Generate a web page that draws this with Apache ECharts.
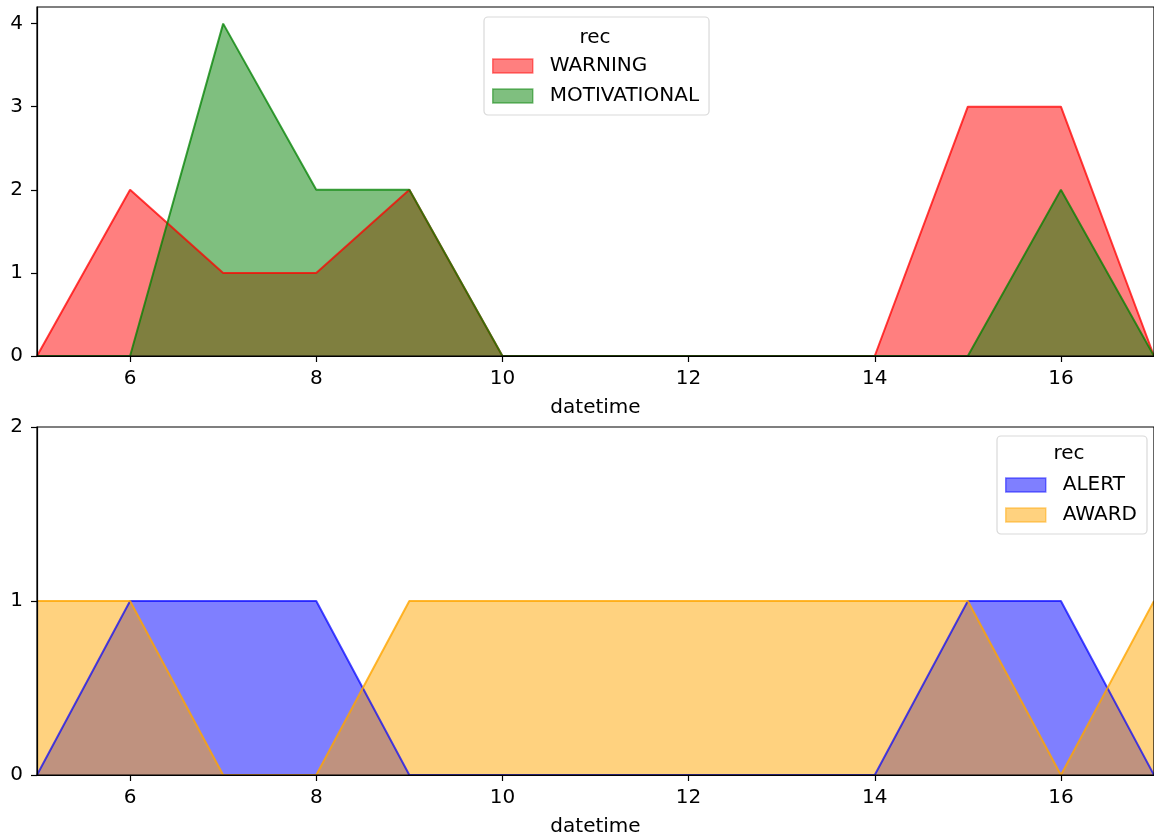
<!DOCTYPE html>
<html>
<head>
<meta charset="utf-8">
<script src="https://cdn.jsdelivr.net/npm/echarts@6/dist/echarts.min.js"></script>
<style>
html,body{margin:0;padding:0;background:#fff;}
#c{width:1154px;height:839px;}
</style>
</head>
<body>
<div id="c"></div>
<script>
var hours = [5,6,7,8,9,10,11,12,13,14,15,16,17];
var warning      = [0,2,1,1,2,0,0,0,0,0,3,3,0];
var motivational = [0,0,4,2,2,0,0,0,0,0,0,2,0];
var alert_       = [0,1,1,1,0,0,0,0,0,0,1,1,0];
var award        = [1,1,0,0,1,1,1,1,1,1,1,0,1];
var xTicks = [6,8,10,12,14,16];
var yTicksTop = [0,1,2,3,4];
var yTicksBottom = [0,1,2];

function pairs(v){ return hours.map(function(h,i){ return [h, v[i]]; }); }

var FONT = 'DejaVu Sans';
var FS = 20;

function xAxis(idx){
  return {
    type:'value', gridIndex: idx, min:5, max:17, z:10,
    name:'datetime', nameLocation:'middle', nameGap:42,
    nameTextStyle:{fontFamily:FONT,fontSize:FS,color:'#000'},
    axisLine:{show:true,lineStyle:{color:'#000',width:1.2}},
    axisTick:{show:true,length:6,inside:false,customValues:xTicks,lineStyle:{color:'#000',width:1.2}},
    axisLabel:{customValues:xTicks,margin:13,fontFamily:FONT,fontSize:FS,color:'#000'},
    splitLine:{show:false}
  };
}
function yAxis(idx, max, ticks){
  return {
    type:'value', gridIndex: idx, min:0, max:max, z:10,
    axisLine:{show:true,lineStyle:{color:'#000',width:1.2}},
    axisTick:{show:true,length:6,inside:false,customValues:ticks,lineStyle:{color:'#000',width:1.2}},
    axisLabel:{customValues:ticks,margin:14,fontFamily:FONT,fontSize:FS,color:'#000'},
    splitLine:{show:false}
  };
}
function area(name, data, xi, line, fill){
  return {
    name:name, type:'line', xAxisIndex:xi, yAxisIndex:xi,
    data:pairs(data), symbol:'none', showSymbol:false, animation:false,
    lineStyle:{color:line,width:2}, itemStyle:{color:fill},
    areaStyle:{color:fill,opacity:1}
  };
}

var red='rgba(255,0,0,0.5)', green='rgba(0,128,0,0.5)', blue='rgba(0,0,255,0.5)', orange='rgba(255,165,0,0.5)';

function legend(left, top, items){
  return {left:left, top:top, orient:'vertical', icon:'rect', itemWidth:40, itemHeight:14, itemGap:10,
     padding:[39,10,9,8], backgroundColor:'#fff', borderColor:'#d9d9d9', borderWidth:1.2, borderRadius:4,
     textStyle:{fontFamily:FONT,fontSize:FS,color:'#000',lineHeight:20,padding:[0,0,0,12]},
     data:items};
}

var option = {
  backgroundColor:'#fff',
  animation:false,
  grid:[
    {left:37,right:0,top:7,height:349,show:true,borderColor:'#000',borderWidth:1.2,z:10,containLabel:false},
    {left:37,right:0,top:427,height:348,show:true,borderColor:'#000',borderWidth:1.2,z:10,containLabel:false}
  ],
  xAxis:[xAxis(0), xAxis(1)],
  yAxis:[yAxis(0,4.2,yTicksTop), yAxis(1,2,yTicksBottom)],
  title:[
    {text:'rec', left:595, top:28, textAlign:'center', padding:0, textStyle:{fontFamily:FONT,fontSize:FS,fontWeight:'normal',color:'#000'}},
    {text:'rec', left:1069, top:444, textAlign:'center', padding:0, textStyle:{fontFamily:FONT,fontSize:FS,fontWeight:'normal',color:'#000'}}
  ],
  legend:[
    legend(484, 17, [{name:'WARNING',itemStyle:{color:red,borderColor:'rgba(255,0,0,0.5)',borderWidth:1.5}},
                     {name:'MOTIVATIONAL',itemStyle:{color:green,borderColor:'rgba(0,128,0,0.5)',borderWidth:1.5}}]),
    legend(997, 436, [{name:'ALERT',itemStyle:{color:blue,borderColor:'rgba(0,0,255,0.5)',borderWidth:1.5}},
                      {name:'AWARD',itemStyle:{color:orange,borderColor:'rgba(255,165,0,0.5)',borderWidth:1.5}}])
  ],
  series:[
    area('WARNING', warning, 0, 'rgba(255,0,0,0.75)', red),
    area('MOTIVATIONAL', motivational, 0, 'rgba(0,128,0,0.75)', green),
    area('ALERT', alert_, 1, 'rgba(0,0,255,0.7)', blue),
    area('AWARD', award, 1, 'rgba(255,165,0,0.8)', orange)
  ]
};
var chart = echarts.init(document.getElementById('c'), null, {renderer:'canvas'});
chart.setOption(option);
</script>
</body>
</html>
